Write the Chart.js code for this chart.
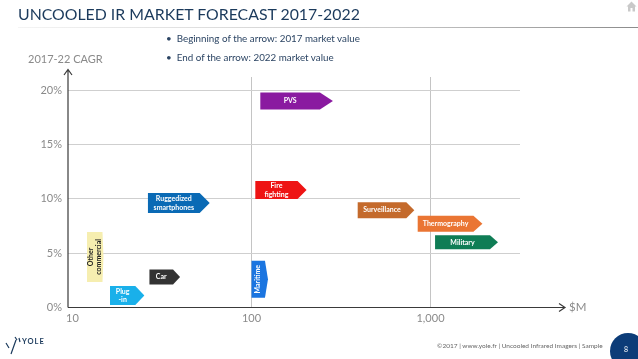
<!DOCTYPE html>
<html>
<head>
<meta charset="utf-8">
<script src="https://cdn.jsdelivr.net/npm/chart.js@4/dist/chart.umd.min.js"></script>
<style>
  html,body{margin:0;padding:0;background:#fff;overflow:hidden}
  #page{position:relative;width:638px;height:359px;font-family:Lato,sans-serif}
  #page div{position:absolute;white-space:nowrap}
  canvas{position:absolute;left:0;top:0}
  #title{left:18px;top:2px;font-size:15.85px;line-height:24px;color:#1b3a5c}
  #rule{left:18px;top:27px;width:620px;height:1px;background:linear-gradient(90deg,#f4f4f4,#c8c8c8 60%,#8c8c8c)}
  .note{left:166px;font-size:9.8px;line-height:12px;color:#2b4463}
  #cagr{left:28px;top:52px;font-size:11px;line-height:14px;color:#8a8a8a}
  #unit{left:569px;top:300px;font-size:11.5px;line-height:14px;color:#8a8a8a}
  #foot{left:437px;top:341px;font-size:6.5px;line-height:10px;color:#666}
  #pageno{left:610px;top:333px;width:36px;height:36px;border-radius:50%;background:#0c3c78}
  #num{left:624px;top:344px;font-size:7px;line-height:10px;color:#fff}
  #logo{top:337px;font-size:7.5px;line-height:10px;font-weight:700;letter-spacing:1px;color:#1b3a5c}
</style>
</head>
<body>
<div id="page">
  <canvas id="chart" width="638" height="359"></canvas>
  <div id="title">UNCOOLED IR MARKET FORECAST 2017-2022</div>
  <div id="rule"></div>
  <div class="note" style="top:32px">•&nbsp;&nbsp;Beginning of the arrow: 2017 market value</div>
  <div class="note" style="top:51px">•&nbsp;&nbsp;End of the arrow: 2022 market value</div>
  <div id="cagr">2017-22 CAGR</div>
  <div id="unit">$M</div>
  <svg style="position:absolute;left:626px;top:1px" width="11" height="11" viewBox="0 0 11 11"><path d="M5.500 0.500 L0.500 5.500 H2 V10.500 H4.500 V7 H6.500 V10.500 H9 V5.500 H10.500 Z" fill="#c9c9c9"/></svg>
  <svg style="position:absolute;left:5px;top:334px" width="18" height="22" viewBox="0 0 18 22"><path d="M1 9 L4 14 M11 6 L6 20 M10 3 L12 6 M14 4 L15 8" stroke="#1b3a5c" stroke-width="1.200" fill="none"/></svg>
  <div id="logo" style="left:22px">YOLE</div>
  <div id="foot">©2017 | www.yole.fr | Uncooled Infrared Imagers | Sample</div>
  <div id="pageno"></div>
  <div id="num">8</div>
</div>
<script>
// market values in $M
const markets = ['PVS', 'Fire fighting', 'Ruggedized smartphones', 'Surveillance', 'Thermography', 'Military', 'Other commercial', 'Maritime', 'Car', 'Plug -in']
const value2017 = [112, 105, 26.4, 392, 848, 1060, 12.05, 100, 26.9, 16.2]
const value2022 = [285, 203, 58.4, 812, 1950, 2382, 14.9, 123.6, 39.9, 25.2]
const cagr = [19, 10.8, 9.6, 8.95, 7.7, 6, 4.65, 2.6, 2.8, 1.1]
const xTicks = [10, 100, 1000]
const yTicks = [0, 5, 10, 15, 20]

// how each arrow looks
const colors = ['#8a1aa0', '#ee1414', '#0a6ab5', '#c46a2c', '#ea7533', '#0f7d55', '#f6eeb0', '#1b75e0', '#333333', '#19b0ea']
const textColors = ['#fff', '#fff', '#fff', '#fff', '#fff', '#fff', '#222', '#fff', '#fff', '#fff']
const thickness = [17, 18, 20, 16, 16, 14, 50, 37, 15, 19]
const headSize = [13, 9, 10, 8, 9, 8, 1, 3, 7, 9]
const labelLines = [['PVS'], ['Fire', 'fighting'], ['Ruggedized', 'smartphones'], ['Surveillance'], ['Thermography'], ['Military'], ['Other', 'commercial'], ['Maritime'], ['Car'], ['Plug', '-in']]
const rotated = [6, 7]

// bars drawn as pentagons, the point sits at the 2022 value
Chart.BarElement.prototype.draw = function(ctx){
  const {x, y, base, height} = this.getProps(['x', 'y', 'base', 'height'])
  const head = this.head || 0
  ctx.save()
  ctx.fillStyle = this.options.backgroundColor
  ctx.beginPath()
  ctx.moveTo(base, y - height / 2)
  ctx.lineTo(x - head, y - height / 2)
  ctx.lineTo(x, y)
  ctx.lineTo(x - head, y + height / 2)
  ctx.lineTo(base, y + height / 2)
  ctx.closePath()
  ctx.fill()
  ctx.restore()
}

const arrowLabels = {
  id:'arrowLabels',
  afterDatasetsUpdate(chart){
    chart.data.datasets.forEach((ds, i)=>{
      chart.getDatasetMeta(i).data[0].head = headSize[i]
    })
  },
  afterDatasetsDraw(chart){
    const ctx = chart.ctx
    ctx.save()
    ctx.font = 'bold 7px Lato'
    ctx.textAlign = 'center'
    ctx.textBaseline = 'middle'
    chart.data.datasets.forEach((ds, i)=>{
      const bar = chart.getDatasetMeta(i).data[0]
      const lines = labelLines[i]
      const cx = (bar.base + bar.x - headSize[i]) / 2
      ctx.save()
      ctx.translate(cx, bar.y)
      if (rotated.includes(i)) ctx.rotate(-Math.PI / 2)
      ctx.fillStyle = textColors[i]
      lines.forEach((line, n)=>{
        ctx.fillText(line, 0, (n - (lines.length - 1) / 2) * 8.500)
      })
      ctx.restore()
    })
    ctx.restore()
  }
}

// the two axes with their arrow heads
const axisArrows = {
  id:'axisArrows',
  afterDraw(chart){
    const ctx = chart.ctx
    const {left, bottom} = chart.chartArea
    ctx.save()
    ctx.strokeStyle = '#3a3a3a'
    ctx.lineWidth = 1.2
    ctx.beginPath()
    ctx.moveTo(left, bottom); ctx.lineTo(left, 70)
    ctx.moveTo(left - 4, 75); ctx.lineTo(left, 69.500); ctx.lineTo(left + 4, 75)
    ctx.moveTo(left, bottom); ctx.lineTo(564, bottom)
    ctx.moveTo(559, bottom - 4); ctx.lineTo(565, bottom); ctx.lineTo(559, bottom + 4)
    ctx.stroke()
    ctx.restore()
  }
}

const tickFont = {family:'Lato', size:11}

new Chart(document.getElementById('chart'), {
  type:'bar',
  data:{
    labels:markets,
    datasets:markets.map((name, i)=>({
      label:name,
      data:[{x:[value2017[i], value2022[i]], y:cagr[i]}],
      backgroundColor:colors[i],
      barThickness:thickness[i],
      grouped:false
    }))
  },
  plugins:[arrowLabels, axisArrows],
  options:{
    indexAxis:'y',
    responsive:false,
    animation:false,
    layout:{padding:{top:77, right:118, left:0, bottom:0}},
    plugins:{legend:{display:false}, title:{display:false}, tooltip:{enabled:false}},
    scales:{
      x:{
        type:'logarithmic',
        min:9.44,
        max:3162,
        afterBuildTicks:(scale)=>{ scale.ticks = xTicks.map(v=>({value:v})) },
        afterFit:(scale)=>{ scale.height = 51.5 },
        border:{display:false},
        grid:{color:(c)=>c.tick.value === 10 ? 'transparent' : '#c4c4c4', lineWidth:1, drawTicks:false},
        ticks:{
          color:'#8a8a8a', font:tickFont, padding:4, maxRotation:0, autoSkip:false,
          callback:(v)=>Number(v).toLocaleString('en-US')
        }
      },
      y:{
        type:'linear',
        offset:false,
        min:0,
        max:21.2,
        afterBuildTicks:(scale)=>{ scale.ticks = yTicks.map(v=>({value:v})) },
        afterFit:(scale)=>{ scale.width = 68 },
        border:{display:false},
        grid:{offset:false, color:'#cfcfcf', lineWidth:1, drawTicks:false},
        ticks:{color:'#8a8a8a', font:tickFont, padding:6, callback:(v)=>v + '%'}
      }
    }
  }
})
</script>
</body>
</html>
